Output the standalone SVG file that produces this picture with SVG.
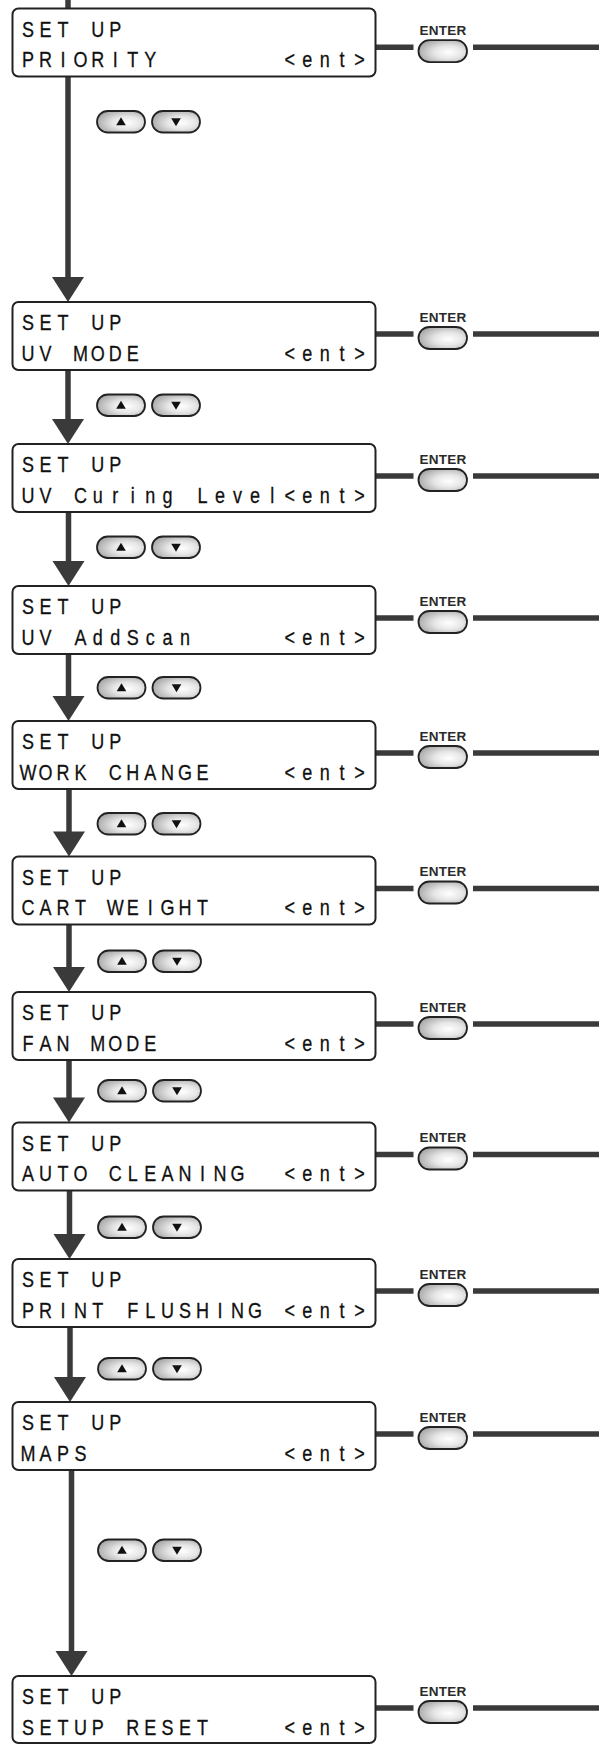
<svg xmlns="http://www.w3.org/2000/svg" xmlns:xlink="http://www.w3.org/1999/xlink" width="599" height="1744" viewBox="0 0 599 1744">
<style>
.box{fill:#fff;stroke:#222;stroke-width:2}
.lcd{font-family:"Liberation Sans",Arial,sans-serif;font-size:22.5px;fill:#111;stroke:#111;stroke-width:0.3;text-anchor:middle}
.ek{font-family:"Liberation Sans",Arial,sans-serif;font-size:13.5px;font-weight:bold;fill:#2a2a2a;text-anchor:middle;letter-spacing:0.2px}
.ln{stroke:#3a3a3a;stroke-width:5.5;fill:none}
.ah{fill:#3a3a3a}
.key{fill:url(#kg);stroke:#222;stroke-width:1.8}
.tri{fill:#111}
</style>
<defs>
<radialGradient id="kg" cx="0.62" cy="0.55" r="0.65">
<stop offset="0" stop-color="#ffffff"/>
<stop offset="0.45" stop-color="#e6e6e6"/>
<stop offset="1" stop-color="#a8a8a8"/>
</radialGradient>
<g id="updown">
<rect class="key" x="0" y="0" width="48" height="21.5" rx="10.75"/>
<polygon class="tri" points="24,6.3 28.8,14.2 19.2,14.2"/>
<rect class="key" x="55" y="0" width="48" height="21.5" rx="10.75"/>
<polygon class="tri" points="74.2,7.3 83.8,7.3 79,15.2"/>
</g>
<rect id="enterkey" class="key" x="0" y="0" width="48.5" height="22" rx="11"/>
</defs>

<g id="connectors">
<path class="ln" d="M68 0V8.5"/>
<path class="ln" d="M68 76.5V278"/><polygon class="ah" points="52,277 84,277 68,302"/>
<path class="ln" d="M68 370V420"/><polygon class="ah" points="52,419 84,419 68,444"/>
<path class="ln" d="M68.5 512V562"/><polygon class="ah" points="52.5,561 84.5,561 68.5,586"/>
<path class="ln" d="M68.5 654V697"/><polygon class="ah" points="52.5,696 84.5,696 68.5,721"/>
<path class="ln" d="M69 789V832.5"/><polygon class="ah" points="53,831.5 85,831.5 69,856.5"/>
<path class="ln" d="M69 924.5V968"/><polygon class="ah" points="53,967 85,967 69,992"/>
<path class="ln" d="M69 1060V1098.5"/><polygon class="ah" points="53,1097.5 85,1097.5 69,1122.5"/>
<path class="ln" d="M69.5 1190.5V1235"/><polygon class="ah" points="53.5,1234 85.5,1234 69.5,1259"/>
<path class="ln" d="M70 1327V1378"/><polygon class="ah" points="54,1377 86,1377 70,1402"/>
<path class="ln" d="M71.5 1470V1652"/><polygon class="ah" points="55.5,1651 87.5,1651 71.5,1676"/>
<path class="ln" d="M375.5 47.2H413.5M473 47.2H599"/>
<path class="ln" d="M375.5 334H413.5M473 334H599"/>
<path class="ln" d="M375.5 476H413.5M473 476H599"/>
<path class="ln" d="M375.5 618H413.5M473 618H599"/>
<path class="ln" d="M375.5 753H413.5M473 753H599"/>
<path class="ln" d="M375.5 888.5H413.5M473 888.5H599"/>
<path class="ln" d="M375.5 1024H413.5M473 1024H599"/>
<path class="ln" d="M375.5 1154.5H413.5M473 1154.5H599"/>
<path class="ln" d="M375.5 1291H413.5M473 1291H599"/>
<path class="ln" d="M375.5 1434H413.5M473 1434H599"/>
<path class="ln" d="M375.5 1708H413.5M473 1708H599"/>
</g>

<g id="updown-keys">
<use xlink:href="#updown" x="97" y="111"/>
<use xlink:href="#updown" x="97" y="394.5"/>
<use xlink:href="#updown" x="97" y="536.5"/>
<use xlink:href="#updown" x="97.5" y="677"/>
<use xlink:href="#updown" x="97.5" y="813"/>
<use xlink:href="#updown" x="98" y="950.5"/>
<use xlink:href="#updown" x="98" y="1080"/>
<use xlink:href="#updown" x="98" y="1216.5"/>
<use xlink:href="#updown" x="98" y="1358"/>
<use xlink:href="#updown" x="98" y="1539.5"/>
</g>

<g id="node-priority">
<rect class="box" x="12.5" y="8.5" width="363" height="68" rx="6"/>
<g transform="scale(0.8 1)">
<text class="lcd" y="37"><tspan x="35 56.88 78.63">SET</tspan><tspan x="122.25 144.13">UP</tspan></text>
<text class="lcd" y="67.5"><tspan x="35 56.88 78.63 100.5 122.25 144.13 165.88 187.75">PRIORITY</tspan><tspan x="362.25 384 405.88 427.63 449.5">&lt;ent&gt;</tspan></text>
</g>
<use xlink:href="#enterkey" x="418.5" y="40.2"/>
<text class="ek" x="443" y="34.7">ENTER</text>
</g>

<g id="node-uv-mode">
<rect class="box" x="12.5" y="302" width="363" height="68" rx="6"/>
<g transform="scale(0.8 1)">
<text class="lcd" y="330.5"><tspan x="35 56.88 78.63">SET</tspan><tspan x="122.25 144.13">UP</tspan></text>
<text class="lcd" y="361"><tspan x="35 56.88">UV</tspan><tspan x="100.5 122.25 144.13 165.88">MODE</tspan><tspan x="362.25 384 405.88 427.63 449.5">&lt;ent&gt;</tspan></text>
</g>
<use xlink:href="#enterkey" x="418.5" y="327"/>
<text class="ek" x="443" y="321.5">ENTER</text>
</g>

<g id="node-uv-curing-level">
<rect class="box" x="12.5" y="444" width="363" height="68" rx="6"/>
<g transform="scale(0.8 1)">
<text class="lcd" y="472.5"><tspan x="35 56.88 78.63">SET</tspan><tspan x="122.25 144.13">UP</tspan></text>
<text class="lcd" y="503"><tspan x="35 56.88">UV</tspan><tspan x="100.5 122.25 144.13 165.88 187.75 209.5">Curing</tspan><tspan x="253.13 275 296.75 318.63 340.38">Level</tspan><tspan x="362.25 384 405.88 427.63 449.5">&lt;ent&gt;</tspan></text>
</g>
<use xlink:href="#enterkey" x="418.5" y="469"/>
<text class="ek" x="443" y="463.5">ENTER</text>
</g>

<g id="node-uv-addscan">
<rect class="box" x="12.5" y="586" width="363" height="68" rx="6"/>
<g transform="scale(0.8 1)">
<text class="lcd" y="614.5"><tspan x="35 56.88 78.63">SET</tspan><tspan x="122.25 144.13">UP</tspan></text>
<text class="lcd" y="645"><tspan x="35 56.88">UV</tspan><tspan x="100.5 122.25 144.13 165.88 187.75 209.5 231.38">AddScan</tspan><tspan x="362.25 384 405.88 427.63 449.5">&lt;ent&gt;</tspan></text>
</g>
<use xlink:href="#enterkey" x="418.5" y="611"/>
<text class="ek" x="443" y="605.5">ENTER</text>
</g>

<g id="node-work-change">
<rect class="box" x="12.5" y="721" width="363" height="68" rx="6"/>
<g transform="scale(0.8 1)">
<text class="lcd" y="749.5"><tspan x="35 56.88 78.63">SET</tspan><tspan x="122.25 144.13">UP</tspan></text>
<text class="lcd" y="780"><tspan x="35 56.88 78.63 100.5">WORK</tspan><tspan x="144.13 165.88 187.75 209.5 231.38 253.13">CHANGE</tspan><tspan x="362.25 384 405.88 427.63 449.5">&lt;ent&gt;</tspan></text>
</g>
<use xlink:href="#enterkey" x="418.5" y="746"/>
<text class="ek" x="443" y="740.5">ENTER</text>
</g>

<g id="node-cart-weight">
<rect class="box" x="12.5" y="856.5" width="363" height="68" rx="6"/>
<g transform="scale(0.8 1)">
<text class="lcd" y="885"><tspan x="35 56.88 78.63">SET</tspan><tspan x="122.25 144.13">UP</tspan></text>
<text class="lcd" y="915.5"><tspan x="35 56.88 78.63 100.5">CART</tspan><tspan x="144.13 165.88 187.75 209.5 231.38 253.13">WEIGHT</tspan><tspan x="362.25 384 405.88 427.63 449.5">&lt;ent&gt;</tspan></text>
</g>
<use xlink:href="#enterkey" x="418.5" y="881.5"/>
<text class="ek" x="443" y="876">ENTER</text>
</g>

<g id="node-fan-mode">
<rect class="box" x="12.5" y="992" width="363" height="68" rx="6"/>
<g transform="scale(0.8 1)">
<text class="lcd" y="1020.5"><tspan x="35 56.88 78.63">SET</tspan><tspan x="122.25 144.13">UP</tspan></text>
<text class="lcd" y="1051"><tspan x="35 56.88 78.63">FAN</tspan><tspan x="122.25 144.13 165.88 187.75">MODE</tspan><tspan x="362.25 384 405.88 427.63 449.5">&lt;ent&gt;</tspan></text>
</g>
<use xlink:href="#enterkey" x="418.5" y="1017"/>
<text class="ek" x="443" y="1011.5">ENTER</text>
</g>

<g id="node-auto-cleaning">
<rect class="box" x="12.5" y="1122.5" width="363" height="68" rx="6"/>
<g transform="scale(0.8 1)">
<text class="lcd" y="1151"><tspan x="35 56.88 78.63">SET</tspan><tspan x="122.25 144.13">UP</tspan></text>
<text class="lcd" y="1181.5"><tspan x="35 56.88 78.63 100.5">AUTO</tspan><tspan x="144.13 165.88 187.75 209.5 231.38 253.13 275 296.75">CLEANING</tspan><tspan x="362.25 384 405.88 427.63 449.5">&lt;ent&gt;</tspan></text>
</g>
<use xlink:href="#enterkey" x="418.5" y="1147.5"/>
<text class="ek" x="443" y="1142">ENTER</text>
</g>

<g id="node-print-flushing">
<rect class="box" x="12.5" y="1259" width="363" height="68" rx="6"/>
<g transform="scale(0.8 1)">
<text class="lcd" y="1287.5"><tspan x="35 56.88 78.63">SET</tspan><tspan x="122.25 144.13">UP</tspan></text>
<text class="lcd" y="1318"><tspan x="35 56.88 78.63 100.5 122.25">PRINT</tspan><tspan x="165.88 187.75 209.5 231.38 253.13 275 296.75 318.63">FLUSHING</tspan><tspan x="362.25 384 405.88 427.63 449.5">&lt;ent&gt;</tspan></text>
</g>
<use xlink:href="#enterkey" x="418.5" y="1284"/>
<text class="ek" x="443" y="1278.5">ENTER</text>
</g>

<g id="node-maps">
<rect class="box" x="12.5" y="1402" width="363" height="68" rx="6"/>
<g transform="scale(0.8 1)">
<text class="lcd" y="1430.5"><tspan x="35 56.88 78.63">SET</tspan><tspan x="122.25 144.13">UP</tspan></text>
<text class="lcd" y="1461"><tspan x="35 56.88 78.63 100.5">MAPS</tspan><tspan x="362.25 384 405.88 427.63 449.5">&lt;ent&gt;</tspan></text>
</g>
<use xlink:href="#enterkey" x="418.5" y="1427"/>
<text class="ek" x="443" y="1421.5">ENTER</text>
</g>

<g id="node-setup-reset">
<rect class="box" x="12.5" y="1676" width="363" height="67" rx="6"/>
<g transform="scale(0.8 1)">
<text class="lcd" y="1704.5"><tspan x="35 56.88 78.63">SET</tspan><tspan x="122.25 144.13">UP</tspan></text>
<text class="lcd" y="1735"><tspan x="35 56.88 78.63 100.5 122.25">SETUP</tspan><tspan x="165.88 187.75 209.5 231.38 253.13">RESET</tspan><tspan x="362.25 384 405.88 427.63 449.5">&lt;ent&gt;</tspan></text>
</g>
<use xlink:href="#enterkey" x="418.5" y="1701"/>
<text class="ek" x="443" y="1695.5">ENTER</text>
</g>
</svg>
